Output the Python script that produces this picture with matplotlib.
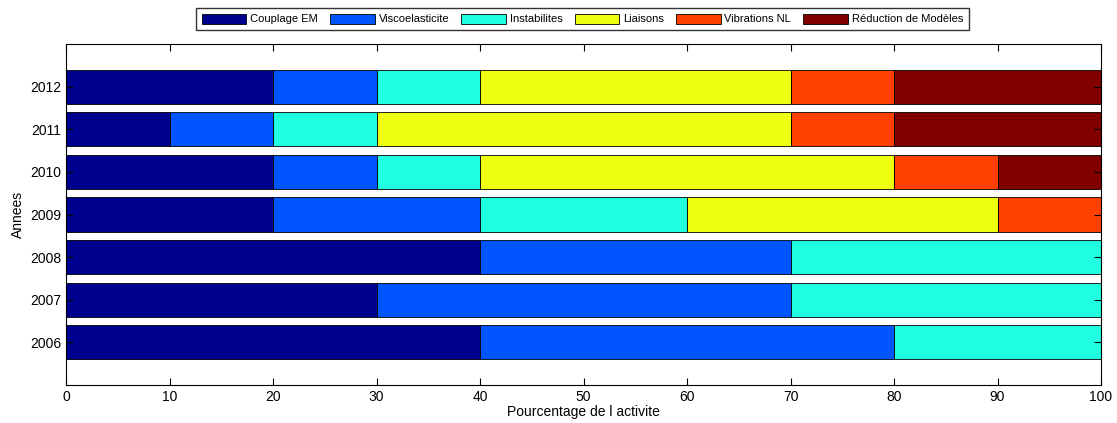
import matplotlib.pyplot as plt
import numpy as np

plt.rcParams['font.family'] = ['Liberation Sans', 'DejaVu Sans']

years = [2006, 2007, 2008, 2009, 2010, 2011, 2012]
labels = ['Couplage EM', 'Viscoelasticite', 'Instabilites', 'Liaisons',
          'Vibrations NL', 'Réduction de Modèles']
couplage = [40, 30, 40, 20, 20, 10, 20]
visco = [40, 40, 30, 20, 10, 10, 10]
instab = [20, 30, 30, 20, 10, 10, 10]
liaisons = [0, 0, 0, 30, 40, 40, 30]
vib_nl = [0, 0, 0, 10, 10, 10, 10]
reduction = [0, 0, 0, 0, 10, 20, 20]

colors = ['#00008F', '#0055FF', '#20FFDF', '#EFFF10', '#FF4000', '#800000']

fig = plt.figure(figsize=(11.17, 4.23), dpi=100)
ax = fig.add_axes([0.0591, 0.0898, 0.9266, 0.8062])

series = [couplage, visco, instab, liaisons, vib_nl, reduction]
left = np.zeros(len(years))
for vals, lab, col in zip(series, labels, colors):
    vals = np.array(vals, dtype=float)
    ax.barh(years, vals, left=left, height=0.8, color=col, edgecolor='black',
            linewidth=0.6, label=lab)
    left += vals

ax.set_xlim(0, 100)
ax.set_ylim(2005, 2013)
ax.set_xticks(range(0, 101, 10))
ax.set_yticks(years)
ax.tick_params(direction='in', length=5, labelsize=10, top=True, right=True,
               labeltop=False, labelright=False)
ax.set_xlabel('Pourcentage de l activite', fontsize=10, labelpad=1)
ax.set_ylabel('Annees', fontsize=10)
for s in ax.spines.values():
    s.set_linewidth(0.8)

fig.legend(loc='upper center', bbox_to_anchor=(0.5215, 0.981), ncol=6,
           fontsize=8, frameon=True, fancybox=False, edgecolor='black',
           handlelength=4.0, handleheight=1.0, columnspacing=1.1,
           handletextpad=0.35, borderpad=0.5, borderaxespad=0)

fig.savefig('out.png', dpi=100)
